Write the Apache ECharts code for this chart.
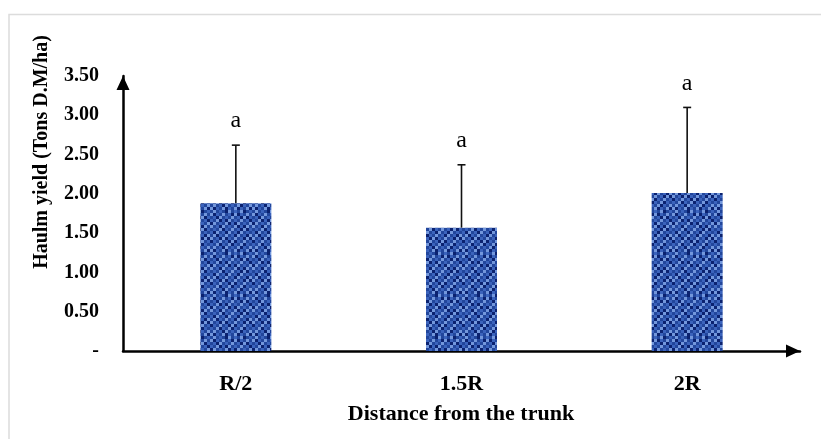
<!DOCTYPE html>
<html>
<head>
<meta charset="utf-8">
<script src="https://cdn.jsdelivr.net/npm/echarts@6/dist/echarts.min.js"></script>
<style>html,body{margin:0;padding:0;background:#fff;}#c{width:821px;height:439px;}</style>
</head>
<body>
<div id="c"></div>
<script>
// ---- data ----
var categories = ['R/2', '1.5R', '2R'];
var means = [1.88, 1.57, 2.01];
var upperErrors = [0.74, 0.80, 1.09];
var letters = ['a', 'a', 'a'];
var yMin = 0, yMax = 3.5, yStep = 0.5;
var xAxisTitle = 'Distance from the trunk';
var yAxisTitle = 'Haulm yield (Tons D.M/ha)';

// ---- bar texture (fixed hand-made weave) ----
var weave = [
  '13121031213012',
  '30213120302131',
  '12031213120302',
  '21302031213120',
  '03121302031213',
  '31203121302031',
  '12130213120302',
  '20312031203121',
  '13021312031203',
  '31203021312030',
  '02131203021312',
  '21302130213021',
  '13120312130213',
  '30213021302130'
];
var shades = ['#0b2270', '#22469c', '#3b63bc', '#7397dc'];
var pc = document.createElement('canvas');
var cell = 3;
pc.width = weave[0].length * cell; pc.height = weave.length * cell;
var pctx = pc.getContext('2d');
for (var r = 0; r < weave.length; r++) {
  for (var k = 0; k < weave[r].length; k++) {
    pctx.fillStyle = shades[+weave[r][k]];
    pctx.fillRect(k * cell, r * cell, cell, cell);
  }
}

var serif = '"Liberation Serif", "DejaVu Serif", serif';
// arrow whose tip sits at the symbol centre (tiny dot keeps the box symmetric)
var arrowPath = 'path://M0,0L0.01,0L0,0.01Z M0,14L6.5,28L-6.5,28Z';

var chart = echarts.init(document.getElementById('c'));
var errData = categories.map(function (c, i) { return [i, means[i], means[i] + upperErrors[i], letters[i]]; });

chart.setOption({
  animation: false,
  backgroundColor: '#fff',
  grid: { left: 123, right: 21, top: 76, bottom: 88, containLabel: false },
  graphic: [
    { type: 'rect', x: 9, y: 14.5, shape: { width: 900, height: 600 }, style: { fill: 'none', stroke: '#dcdcdc', lineWidth: 1.5 }, z: -1 },
    { type: 'text', x: 42, y: 152, rotation: Math.PI / 2,
      style: { text: yAxisTitle, font: 'bold 20px ' + serif, fill: '#000', align: 'center', verticalAlign: 'middle' } },
    { type: 'text', x: 461, y: 414,
      style: { text: xAxisTitle, font: 'bold 22px ' + serif, fill: '#000', align: 'center', verticalAlign: 'middle' } }
  ],
  xAxis: {
    type: 'category',
    data: categories,
    axisLine: { show: true, lineStyle: { color: '#000', width: 2.5 }, symbol: ['none', arrowPath], symbolSize: [13, 28] },
    axisTick: { show: false },
    axisLabel: { fontFamily: serif, fontWeight: 'bold', fontSize: 22, color: '#000', margin: 22 },
    splitLine: { show: false }
  },
  yAxis: {
    type: 'value',
    min: yMin, max: yMax, interval: yStep,
    axisLine: { show: true, lineStyle: { color: '#000', width: 2.5 }, symbol: ['none', arrowPath], symbolSize: [13, 28] },
    axisTick: { show: false },
    splitLine: { show: false },
    axisLabel: {
      fontFamily: serif, fontWeight: 'bold', fontSize: 20, color: '#000', margin: 24,
      formatter: function (v) { return v === 0 ? '-' : v.toFixed(2); }
    }
  },
  series: [
    {
      type: 'bar',
      data: means,
      barWidth: 71,
      itemStyle: { color: { image: pc, repeat: 'repeat' } },
      z: 2
    },
    {
      type: 'custom',
      data: errData,
      z: 3,
      renderItem: function (params, api) {
        var x = api.value(0);
        var lo = api.coord([x, api.value(1)]);
        var hi = api.coord([x, api.value(2)]);
        var cap = 4;
        return {
          type: 'group',
          children: [
            { type: 'line', shape: { x1: lo[0], y1: lo[1], x2: hi[0], y2: hi[1] }, style: { stroke: '#111', lineWidth: 1.6 } },
            { type: 'line', shape: { x1: hi[0] - cap, y1: hi[1], x2: hi[0] + cap, y2: hi[1] }, style: { stroke: '#111', lineWidth: 1.6 } },
            { type: 'text', x: hi[0], y: hi[1] - 24, style: { text: api.value(3), font: '24px ' + serif, fill: '#000', align: 'center', verticalAlign: 'middle' } }
          ]
        };
      }
    }
  ]
});
</script>
</body>
</html>
